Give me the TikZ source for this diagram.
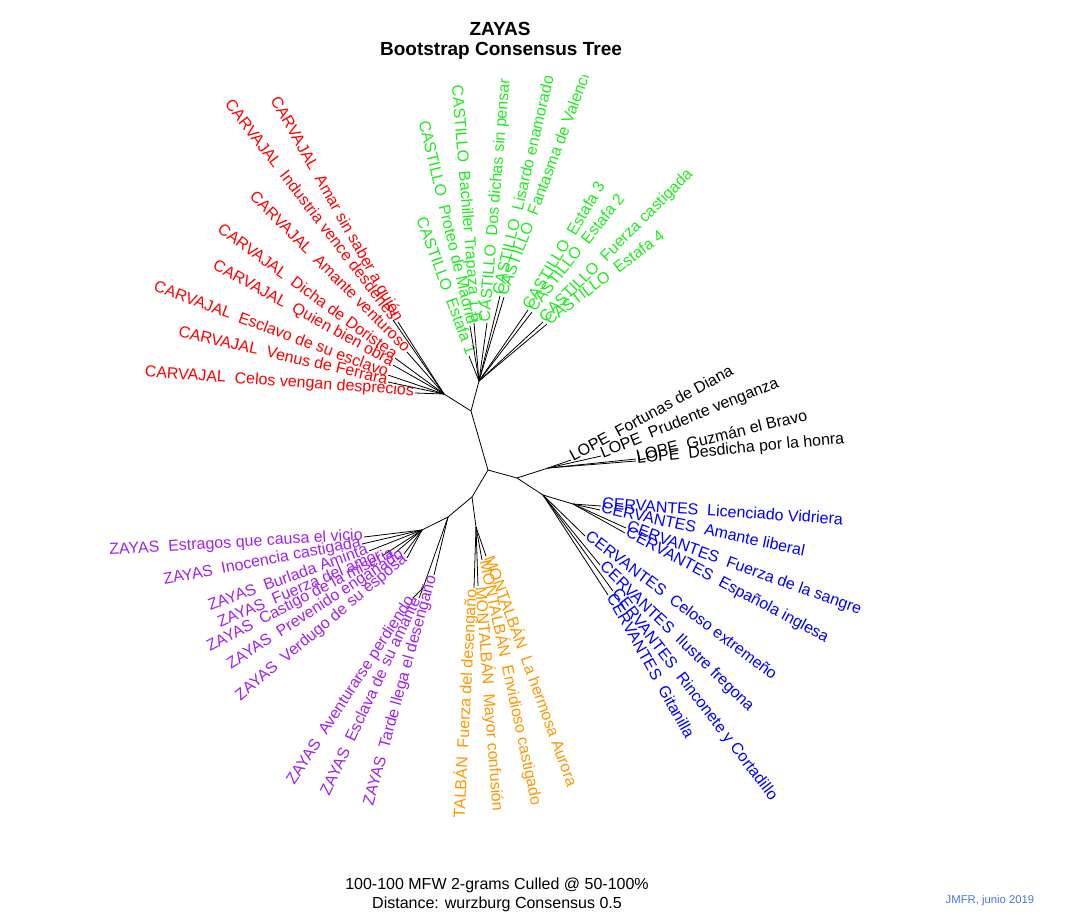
\documentclass[tikz,border=0pt]{standalone}
\usepackage{fontspec}
\setmainfont{Liberation Sans}
\definecolor{cred}{RGB}{255,0,0}
\definecolor{cgreen}{RGB}{30,235,30}
\definecolor{cblue}{RGB}{0,0,255}
\definecolor{cpurple}{RGB}{160,32,240}
\definecolor{corange}{RGB}{255,150,0}
\definecolor{csign}{RGB}{70,120,230}
\newcommand\leafR[6]{%
  \coordinate (#1) at (#3);
  \draw[edge] (#2) -- (#1);
  \node[lab, text=#5, anchor=mid west, rotate=#4] (#1-l) at (#1) {#6};}
\newcommand\leafL[6]{%
  \coordinate (#1) at (#3);
  \draw[edge] (#2) -- (#1);
  \node[lab, text=#5, anchor=mid east, rotate=#4] (#1-l) at (#1) {#6};}
\begin{document}
\begin{tikzpicture}[x=1pt,y=-1pt,
  lab/.style={font=\fontsize{16}{18}\selectfont, inner sep=1pt},
  edge/.style={line width=0.8pt, black},
  ttl/.style={font=\bfseries\fontsize{19}{22}\selectfont, inner sep=0pt},
  foot/.style={font=\fontsize{16}{18}\selectfont, inner sep=0pt}]
\useasboundingbox (0,0) rectangle (1075,914);
\node[ttl] (t1) at (500,29) {ZAYAS};
\node[ttl] (t2) at (501,51) {Bootstrap Consensus Tree};
\node[foot] (f1) at (497,885) {100-100 MFW 2-grams Culled @ 50-100\%};
\node[foot] (f2) at (497,904) {Distance: wurzburg Consensus 0.5};
\node[font=\fontsize{11.3}{13}\selectfont, text=csign, inner sep=0pt] (sig) at (990,901) {JMFR, junio 2019};
% internal nodes
\coordinate (n1) at (471,411);
\coordinate (n2) at (488,470);
\coordinate (nR) at (444,394);
\coordinate (nG) at (479,381);
\coordinate (n3) at (517,478);
\coordinate (nL) at (548,468);
\coordinate (nC) at (543,495);
\coordinate (nCA) at (573,504);
\coordinate (n4) at (472,497);
\coordinate (nZ) at (448,517);
\coordinate (nZA) at (422,530);
\coordinate (nZB) at (423,588);
\coordinate (nM) at (476,527);
\draw[edge] (n1) -- (n2);
\draw[edge] (n1) -- (nR);
\draw[edge] (n1) -- (nG);
\draw[edge] (n2) -- (n3);
\draw[edge] (n3) -- (nL);
\draw[edge] (n3) -- (nC);
\draw[edge] (nC) -- (nCA);
\draw[edge] (n2) -- (n4);
\draw[edge] (n4) -- (nZ);
\draw[edge] (nZ) -- (nZA);
\draw[edge] (nZ) -- (nZB);
\draw[edge] (n4) -- (nM);
\begin{scope}
\clip (0,75) rectangle (1075,816);
% CARVAJAL
\leafL{r1}{nR}{415,393}{-4}{cred}{CARVAJAL\ \ Celos vengan desprecios}
\leafL{r2}{nR}{388,382}{-12.8}{cred}{CARVAJAL\ \ Venus de Ferrara}
\leafL{r3}{nR}{388,375}{-20.3}{cred}{CARVAJAL\ \ Esclavo de su esclavo}
\leafL{r4}{nR}{393,365}{-28.8}{cred}{CARVAJAL\ \ Quien bien obra}
\leafL{r5}{nR}{395,358}{-36}{cred}{CARVAJAL\ \ Dicha de Doristea}
\leafL{r6}{nR}{407,352}{-45}{cred}{CARVAJAL\ \ Amante venturoso}
\leafL{r7}{nR}{393,320}{-52.5}{cred}{CARVAJAL\ \ Industria vence desdenes}
\leafL{r8}{nR}{398,322}{-60.6}{cred}{CARVAJAL\ \ Amar sin saber a quién}
% CASTILLO
\leafL{g1}{nG}{469,356}{-69.8}{cgreen}{CASTILLO\ \ Estafa 1}
\leafL{g2}{nG}{470,326}{-76.6}{cgreen}{CASTILLO\ \ Proteo de Madrid}
\leafL{g3}{nG}{474,323}{-85.3}{cgreen}{CASTILLO\ \ Bachiller Trapaza 1 6}
\leafR{g4}{nG}{487,323}{85.3}{cgreen}{CASTILLO\ \ Dos dichas sin pensar}
\leafR{g5}{nG}{500,296}{76.8}{cgreen}{CASTILLO\ \ Lisardo enamorado}
\leafR{g6}{nG}{504,297}{69.4}{cgreen}{CASTILLO\ \ Fantasma de Valencia}
\leafR{g7}{nG}{528,310}{59}{cgreen}{CASTILLO\ \ Estafa 3}
\leafR{g8}{nG}{532,312}{51.5}{cgreen}{CASTILLO\ \ Estafa 2}
\leafR{g9}{nG}{543,322}{45}{cgreen}{CASTILLO\ \ Fuerza castigada}
\leafR{g10}{nG}{547,324}{36.8}{cgreen}{CASTILLO\ \ Estafa 4}
% LOPE
\leafR{l1}{nL}{571,460}{28.5}{black}{LOPE\ \ Fortunas de Diana}
\leafR{l2}{nL}{601,456}{22}{black}{LOPE\ \ Prudente venganza}
\leafR{l3}{nL}{636,459}{13.6}{black}{LOPE\ \ Guzmán el Bravo}
\leafR{l4}{nL}{636,461}{5.6}{black}{LOPE\ \ Desdicha por la honra}
% CERVANTES
\leafR{c1}{nCA}{601,506}{-3.8}{cblue}{CERVANTES\ \ Licenciado Vidriera}
\leafR{c2}{nCA}{600,510}{-12}{cblue}{CERVANTES\ \ Amante liberal}
\leafR{c3}{nCA}{626,528}{-19.7}{cblue}{CERVANTES\ \ Fuerza de la sangre}
\leafR{c4}{nCA}{625,533}{-28}{cblue}{CERVANTES\ \ Española inglesa}
\leafR{c5}{nC}{585,536}{-37}{cblue}{CERVANTES\ \ Celoso extremeño}
\leafR{c6}{nC}{600,565}{-44}{cblue}{CERVANTES\ \ Ilustre fregona}
\leafR{c7}{nC}{613,591}{-52.6}{cblue}{CERVANTES\ \ Rinconete y Cortadillo}
\leafR{c8}{nC}{608,595}{-60.8}{cblue}{CERVANTES\ \ Gitanilla}
% ZAYAS
\leafL{z1}{nZA}{364,537}{3.4}{cpurple}{ZAYAS\ \ Estragos que causa el vicio}
\leafL{z2}{nZA}{362,544}{10.9}{cpurple}{ZAYAS\ \ Inocencia castigada}
\leafL{z3}{nZA}{369,551}{19.7}{cpurple}{ZAYAS\ \ Burlada Aminta}
\leafL{z4}{nZA}{382,556}{23}{cpurple}{ZAYAS\ \ Fuerza del amor}
\leafL{z5}{nZA}{395,553}{27.4}{cpurple}{ZAYAS\ \ Castigo de la miseria}
\leafL{z6}{nZA}{404,554}{33}{cpurple}{ZAYAS\ \ Prevenido engañado}
\leafL{z7}{nZA}{407,558}{40}{cpurple}{ZAYAS\ \ Verdugo de su esposa}
\leafL{z8}{nZB}{413,598}{57}{cpurple}{ZAYAS\ \ Aventurarse perdiendo}
\leafL{z9}{nZB}{419,598}{65}{cpurple}{ZAYAS\ \ Esclava de su amante}
\leafL{z10}{nZ}{434,575}{74.6}{cpurple}{ZAYAS\ \ Tarde llega el desengaño}
% MONTALBAN
\leafL{m1}{nM}{474,588}{87}{corange}{MONTALBÁN\ \ Fuerza del desengaño}
\leafR{m2}{nM}{478,586}{-85.6}{corange}{MONTALBÁN\ \ Mayor confusión}
\leafR{m3}{nM}{482,560}{-78}{corange}{MONTALBÁN\ \ Envidioso castigado}
\leafR{m4}{nM}{486,556}{-70}{corange}{MONTALBÁN\ \ La hermosa Aurora}
\end{scope}
\end{tikzpicture}
\end{document}
